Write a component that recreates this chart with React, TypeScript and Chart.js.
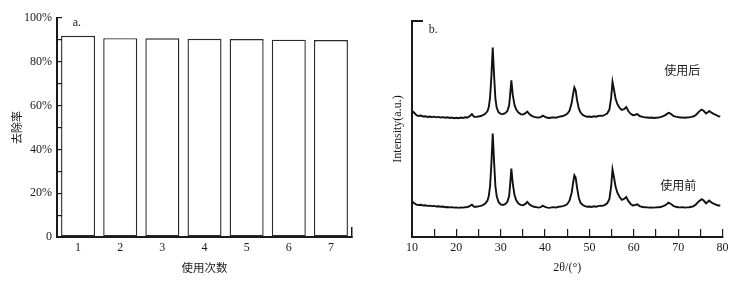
import React, { useEffect, useRef } from "react";
import { Chart, registerables } from "chart.js";

Chart.register(...registerables);

// ---------- Panel a: removal rate vs. usage count ----------
const usageCounts = ["1", "2", "3", "4", "5", "6", "7"];
const removalRates = [91.9, 90.8, 90.7, 90.5, 90.4, 90.1, 89.9];
const rateTicks = [0, 10, 20, 30, 40, 50, 60, 70, 80, 90, 100];

// ---------- Panel b: XRD patterns ----------
const twoTheta = [
  10, 10.3, 10.6, 11, 11.5, 12, 12.5, 13, 13.5, 14,
  14.5, 15, 15.5, 16, 16.5, 17, 17.5, 18, 18.5, 19,
  19.5, 20, 20.5, 21, 21.5, 22, 22.5, 23, 23.5, 24,
  24.5, 25, 25.5, 26, 26.5, 27, 27.3, 27.6, 27.9, 28.2,
  28.5, 28.8, 29.1, 29.5, 30, 30.5, 31, 31.5, 31.9, 32.15,
  32.4, 32.7, 33.1, 33.5, 34, 34.5, 35, 35.5, 36, 36.5,
  37, 37.5, 38, 38.5, 39, 39.5, 40, 40.5, 41, 41.5,
  42, 42.5, 43, 43.5, 44, 44.5, 45, 45.5, 46, 46.3,
  46.6, 46.9, 47.2, 47.6, 48, 48.5, 49, 49.5, 50, 50.5,
  51, 51.5, 52, 52.5, 53, 53.5, 54, 54.5, 54.9, 55.2,
  55.5, 55.9, 56.3, 56.8, 57.3, 57.8, 58.3, 58.8, 59.3, 59.8,
  60.3, 60.8, 61.3, 62, 62.5, 63, 63.5, 64, 64.5, 65,
  65.5, 66, 66.5, 67, 67.5, 67.8, 68.2, 68.6, 69, 69.5,
  70, 70.5, 71, 71.5, 72, 72.5, 73, 73.5, 74, 74.5,
  75, 75.3, 75.7, 76.3, 76.7, 77, 77.5, 78, 78.5, 79,
  79.5,
];

const afterUse = [
  57.2, 57.9, 57.3, 56.4, 56.0, 56.2, 55.8, 55.9, 55.6, 55.8,
  55.5, 55.7, 55.4, 55.6, 55.3, 55.5, 55.2, 55.4, 55.1, 55.3,
  55.0, 55.2, 55.0, 55.3, 55.1, 55.4, 55.3, 55.9, 56.9, 55.6,
  55.6, 55.8, 56.0, 56.4, 57.0, 58.2, 60.0, 64.5, 74.5, 87.7,
  75.0, 64.0, 59.8, 57.8, 57.0, 56.9, 57.3, 58.3, 61.0, 66.5,
  72.5, 66.0, 61.2, 59.0, 57.6, 56.9, 56.7, 57.2, 58.1, 56.8,
  56.1, 55.6, 55.4, 55.3, 55.5, 56.2, 55.6, 55.2, 55.1, 55.3,
  55.4, 55.2, 55.6, 55.8, 56.0, 56.4, 57.0, 58.4, 62.0, 66.0,
  69.2, 67.8, 63.5, 59.5, 57.6, 56.5, 56.0, 55.7, 55.8, 55.6,
  55.9, 55.7, 56.0, 56.2, 56.1, 56.6, 57.2, 59.0, 64.5, 71.8,
  68.5, 64.0, 61.5, 59.8, 58.8, 59.2, 60.2, 58.2, 57.0, 56.4,
  56.6, 56.9, 56.0, 55.6, 55.4, 55.3, 55.2, 55.3, 55.1, 55.2,
  55.3, 55.5, 55.8, 56.3, 57.0, 57.5, 57.2, 56.6, 56.0, 55.7,
  55.5, 55.3, 55.4, 55.2, 55.3, 55.4, 55.6, 55.9, 56.5, 57.6,
  58.6, 59.0, 58.5, 57.2, 57.7, 58.3, 57.6, 57.0, 56.6, 56.0,
  55.7,
];

const beforeUse = [
  15.4, 16.0, 15.5, 15.0, 14.8, 14.9, 14.6, 14.7, 14.4, 14.5,
  14.3, 14.4, 14.1, 14.2, 14.0, 14.1, 13.8, 13.9, 13.7, 13.8,
  13.6, 13.7, 13.5, 13.7, 13.6, 13.8, 13.9, 14.3, 15.0, 14.0,
  14.0, 14.2, 14.4, 14.8, 15.5, 16.8, 18.8, 23.5, 34.0, 47.9,
  35.0, 23.5, 18.8, 16.2, 15.1, 14.8, 15.2, 16.3, 19.0, 25.0,
  31.7, 25.0, 19.5, 17.0, 15.5, 14.9, 14.7, 15.2, 16.2, 15.0,
  14.4, 14.0, 13.8, 13.6, 13.8, 14.5, 13.9, 13.6, 13.5, 13.7,
  13.8, 13.6, 14.0, 14.1, 14.3, 14.6, 15.2, 16.8, 20.5, 24.8,
  28.6, 27.5, 23.0, 18.2, 15.8, 14.8, 14.3, 14.0, 14.1, 13.9,
  14.2, 14.0, 14.3, 14.5, 14.4, 14.9, 15.6, 17.5, 23.5, 31.3,
  28.0, 23.2, 20.5, 18.5, 17.2, 17.6, 18.5, 16.6, 15.3, 14.6,
  14.8, 15.1, 14.3, 13.9, 13.8, 13.7, 13.6, 13.7, 13.6, 13.7,
  13.8, 13.9, 14.2, 14.6, 15.3, 15.9, 15.5, 14.9, 14.3, 14.0,
  13.8, 13.7, 13.8, 13.6, 13.7, 13.8, 14.0, 14.3, 15.0, 16.2,
  17.0, 17.5, 17.0, 15.6, 16.3, 16.9, 16.0, 15.4, 15.0, 14.6,
  14.6,
];

const twoThetaTicks = [10, 15, 20, 25, 30, 35, 40, 45, 50, 55, 60, 65, 70, 75, 80];

const SERIF = "'Liberation Serif', 'DejaVu Serif', serif";
const CJK = "'Noto Sans CJK SC', 'Noto Sans', sans-serif";
const INK = "#1a1a1a";

type Note = { text: string; x: number; y: number; font: string };

const notesPlugin = (notes: Note[]) => ({
  id: "notes",
  afterDraw(chart: any) {
    const ctx = chart.ctx;
    const xs = chart.scales.x;
    const ys = chart.scales.y;
    ctx.save();
    ctx.fillStyle = INK;
    ctx.textAlign = "center";
    ctx.textBaseline = "middle";
    for (const n of notes) {
      ctx.font = n.font;
      const px = xs.getPixelForValue(n.x);
      const py = ys.getPixelForValue(n.y);
      ctx.fillText(n.text, px, py);
    }
    ctx.restore();
  },
});

function PanelA() {
  const ref = useRef<HTMLCanvasElement | null>(null);
  useEffect(() => {
    if (!ref.current) return;
    const chart = new Chart(ref.current, {
      type: "bar",
      data: {
        labels: usageCounts,
        datasets: [
          {
            data: removalRates,
            backgroundColor: "#ffffff",
            borderColor: "#2a2a2a",
            borderWidth: 1.4,
            borderSkipped: false,
            barPercentage: 0.807,
            categoryPercentage: 1,
          },
        ],
      },
      options: {
        animation: false,
        responsive: false,
        maintainAspectRatio: false,
        layout: { padding: { left: 0, right: 18, top: 18, bottom: 0 } },
        plugins: { legend: { display: false }, tooltip: { enabled: false } },
        scales: {
          x: {
            type: "category",
            offset: true,
            grid: {
              display: true,
              drawOnChartArea: false,
              offset: true,
              tickLength: -10,
              lineWidth: 1.5,
              tickColor: (c: any) => (c.type === "scale" ? INK : "rgba(0,0,0,0)"),
            },
            border: { display: true, color: INK, width: 2 },
            ticks: { color: INK, font: { family: SERIF, size: 12 }, padding: 14, maxRotation: 0 },
            title: {
              display: true,
              text: "使用次数",
              color: INK,
              font: { family: CJK, size: 11.5 },
              padding: { top: 0, bottom: 6 },
            },
            afterFit: (s: any) => {
              s.height = 44;
            },
          },
          y: {
            min: 0,
            max: 100,
            afterBuildTicks: (s: any) => {
              s.ticks = rateTicks.map((v) => ({ value: v }));
            },
            grid: { drawOnChartArea: false, tickLength: -5, tickColor: INK, lineWidth: 1.2 },
            border: { display: true, color: INK, width: 2 },
            ticks: {
              autoSkip: false,
              padding: 10,
              color: INK,
              font: { family: SERIF, size: 12 },
              callback: (v: any) => (Number(v) % 20 === 0 ? (Number(v) === 0 ? "0" : v + "%") : ""),
            },
            title: {
              display: true,
              text: "去除率",
              color: INK,
              font: { family: CJK, size: 11 },
              padding: { top: 10, bottom: 0 },
            },
            afterFit: (s: any) => {
              s.width = 57;
            },
          },
        },
      },
      plugins: [notesPlugin([{ text: "a.", x: -0.03, y: 97.8, font: `12px ${SERIF}` }])],
    } as any);
    return () => chart.destroy();
  }, []);
  return <canvas ref={ref} width={370} height={281} style={{ width: 370, height: 281, display: "block" }} />;
}

function PanelB() {
  const ref = useRef<HTMLCanvasElement | null>(null);
  useEffect(() => {
    if (!ref.current) return;
    const chart = new Chart(ref.current, {
      type: "line",
      data: {
        datasets: [
          {
            label: "使用后",
            data: twoTheta.map((x, i) => ({ x, y: afterUse[i] })),
            borderColor: "#111111",
            borderWidth: 1.9,
            pointRadius: 0,
            tension: 0,
          },
          {
            label: "使用前",
            data: twoTheta.map((x, i) => ({ x, y: beforeUse[i] })),
            borderColor: "#111111",
            borderWidth: 1.9,
            pointRadius: 0,
            tension: 0,
          },
        ],
      },
      options: {
        animation: false,
        responsive: false,
        maintainAspectRatio: false,
        layout: { padding: { left: 0, right: 23.5, top: 21, bottom: 0 } },
        plugins: { legend: { display: false }, tooltip: { enabled: false } },
        scales: {
          x: {
            type: "linear",
            min: 10,
            max: 80,
            afterBuildTicks: (s: any) => {
              s.ticks = twoThetaTicks.map((v) => ({ value: v }));
            },
            grid: { drawOnChartArea: false, tickLength: -8, tickColor: INK, lineWidth: 1.2 },
            border: { display: true, color: INK, width: 2 },
            ticks: {
              autoSkip: false,
              maxRotation: 0,
              padding: 12,
              color: INK,
              font: { family: SERIF, size: 12 },
              callback: (v: any) => (Number(v) % 10 === 0 ? String(v) : ""),
            },
            title: {
              display: true,
              text: "2θ/(°)",
              color: INK,
              font: { family: SERIF, size: 12 },
              padding: { top: 0, bottom: 6 },
            },
            afterFit: (s: any) => {
              s.height = 44;
            },
          },
          y: {
            min: 0,
            max: 100,
            afterBuildTicks: (s: any) => {
              s.ticks = [{ value: 100 }];
            },
            grid: { drawOnChartArea: false, tickLength: -11, tickColor: INK, lineWidth: 2 },
            border: { display: true, color: INK, width: 2 },
            ticks: { display: false },
            title: {
              display: true,
              text: "Intensity(a.u.)",
              color: INK,
              font: { family: SERIF, size: 12 },
              padding: { top: 21, bottom: 0 },
            },
            afterFit: (s: any) => {
              s.width = 42;
            },
          },
        },
      },
      plugins: [
        notesPlugin([
          { text: "b.", x: 14.8, y: 95.7, font: `12px ${SERIF}` },
          { text: "使用后", x: 70.9, y: 77.2, font: `12px ${CJK}` },
          { text: "使用前", x: 70.0, y: 23.9, font: `12px ${CJK}` },
        ]),
      ],
    } as any);
    return () => chart.destroy();
  }, []);
  return <canvas ref={ref} width={376} height={281} style={{ width: 376, height: 281, display: "block" }} />;
}

export default function App() {
  return (
    <div
      style={{
        position: "absolute",
        left: 0,
        top: 0,
        width: 746,
        height: 281,
        background: "#ffffff",
        display: "flex",
        flexDirection: "row",
      }}
    >
      <PanelA />
      <PanelB />
    </div>
  );
}
